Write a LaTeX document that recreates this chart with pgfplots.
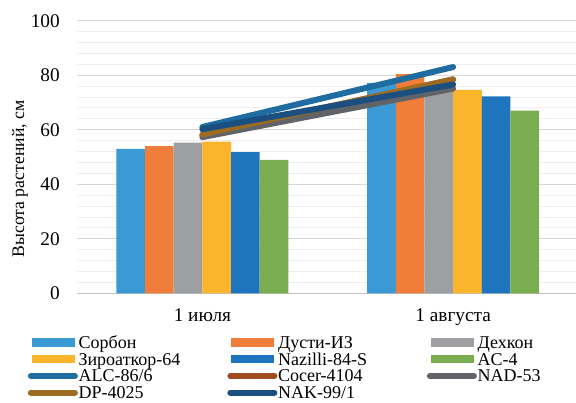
\documentclass[border=0pt]{standalone}
\usepackage{fontspec}
\setmainfont{Liberation Serif}
\usepackage{pgfplots}
\pgfplotsset{compat=1.18}
\definecolor{c1}{HTML}{3B9AD4}
\definecolor{c2}{HTML}{F07E3A}
\definecolor{c3}{HTML}{9D9FA3}
\definecolor{c4}{HTML}{FBB52D}
\definecolor{c5}{HTML}{1F74BE}
\definecolor{c6}{HTML}{7AAC50}
\definecolor{l1}{HTML}{1E6CA0}
\definecolor{l2}{HTML}{A24A20}
\definecolor{l3}{HTML}{606468}
\definecolor{l4}{HTML}{9C6C22}
\definecolor{l5}{HTML}{1B4F80}
\definecolor{majgrid}{HTML}{D6D8DA}
\definecolor{mingrid}{HTML}{ECEDEE}
\definecolor{axisgray}{HTML}{BFC3C6}
\pgfplotsset{
  barleg/.style={legend image code/.code={\fill[#1] (0pt,-4.15pt) rectangle (43.3pt,4.15pt); \path (44pt,0pt);}},
  lineleg/.style={legend image code/.code={\draw[#1, line width=6pt, line cap=round] (-0.7pt,0pt) -- (43.3pt,0pt); \path (0pt,0pt) (44pt,0pt);}},
}
\begin{document}
\begin{tikzpicture}[font=\fontsize{19}{22}\selectfont]
\begin{axis}[
  scale only axis, width=499pt, height=272.6pt,
  xmin=-0.5, xmax=1.49, ymin=0, ymax=100,
  axis x line*=bottom, axis y line*=left,
  x axis line style={draw=axisgray, line width=0.9pt},
  y axis line style={draw=none},
  xtick={0,1}, xticklabels={1 июля, 1 августа},
  major x tick style={draw=none},
  extra x ticks={-0.5,0.5,1.5}, extra x tick labels={},
  extra x tick style={major tick length=6pt, tick align=outside, tick style={draw=axisgray, line width=0.9pt}, grid=none},
  xticklabel style={yshift=-12pt, font=\fontsize{19.3}{22}\selectfont},
  ytick={0,20,...,100}, minor y tick num=4,
  yticklabel={\fontsize{19.3}{22}\selectfont\pgfmathprintnumber[assume math mode=true]{\tick}},
  ytick style={draw=none}, minor y tick style={draw=none},
  ymajorgrids, yminorgrids,
  major grid style={draw=majgrid, line width=0.9pt},
  minor grid style={draw=mingrid, line width=0.9pt},
  yticklabel style={inner xsep=0pt, xshift=-17pt, font=\fontsize{19.3}{22}\selectfont},
  /pgf/number format/assume math mode=true,
  ylabel={Высота растений, см},
  every axis y label/.style={at={([xshift=-57pt,yshift=-22pt]axis description cs:0,0.5)}, rotate=90, anchor=center, font=\fontsize{17.7}{21}\selectfont},
  legend columns=3,
  legend cell align=left,
  legend style={at={(0,0)}, anchor=north west, xshift=-49.3pt, yshift=-41.5pt, draw=none, fill=none, inner sep=0pt, row sep=1.7pt,
    font=\fontsize{18}{20}\selectfont,
    nodes={inner sep=0pt, text width=148.8pt, text height=13.5pt, text depth=1.5pt, anchor=west}},
]
\addplot[ybar, bar width=0.1143, bar shift=-0.2857, fill=c1, draw=none, barleg=c1] coordinates {(0,53.0) (1,77.2)};
\addlegendentry{Сорбон}
\addplot[ybar, bar width=0.1143, bar shift=-0.1714, fill=c2, draw=none, barleg=c2] coordinates {(0,54.0) (1,80.4)};
\addlegendentry{Дусти-ИЗ}
\addplot[ybar, bar width=0.1143, bar shift=-0.0571, fill=c3, draw=none, barleg=c3] coordinates {(0,55.3) (1,76.0)};
\addlegendentry{Дехкон}
\addplot[ybar, bar width=0.1143, bar shift=0.0571, fill=c4, draw=none, barleg=c4] coordinates {(0,55.6) (1,74.6)};
\addlegendentry{Зироаткор-64}
\addplot[ybar, bar width=0.1143, bar shift=0.1714, fill=c5, draw=none, barleg=c5] coordinates {(0,51.8) (1,72.2)};
\addlegendentry{Nazilli-84-S}
\addplot[ybar, bar width=0.1143, bar shift=0.2857, fill=c6, draw=none, barleg=c6] coordinates {(0,48.9) (1,67.0)};
\addlegendentry{AC-4}
\addplot[l1, line width=6pt, line cap=round, lineleg=l1] coordinates {(0,61.0) (1,83.0)};
\addlegendentry{ALC-86/6}
\addplot[l2, line width=6pt, line cap=round, lineleg=l2] coordinates {(0,58.0) (1,78.4)};
\addlegendentry{Cocer-4104}
\addplot[l3, line width=6pt, line cap=round, lineleg=l3] coordinates {(0,57.3) (1,75.1)};
\addlegendentry{NAD-53}
\addplot[l4, line width=6pt, line cap=round, lineleg=l4] coordinates {(0,58.3) (1,78.5)};
\addlegendentry{DP-4025}
\addplot[l5, line width=6pt, line cap=round, lineleg=l5] coordinates {(0,60.2) (1,76.6)};
\addlegendentry{NAK-99/1}
\end{axis}
\pgfresetboundingbox
\path ([shift={(-77pt,-108.7pt)}]current axis.south west) rectangle ++(576pt,402pt);
\end{tikzpicture}
\end{document}
